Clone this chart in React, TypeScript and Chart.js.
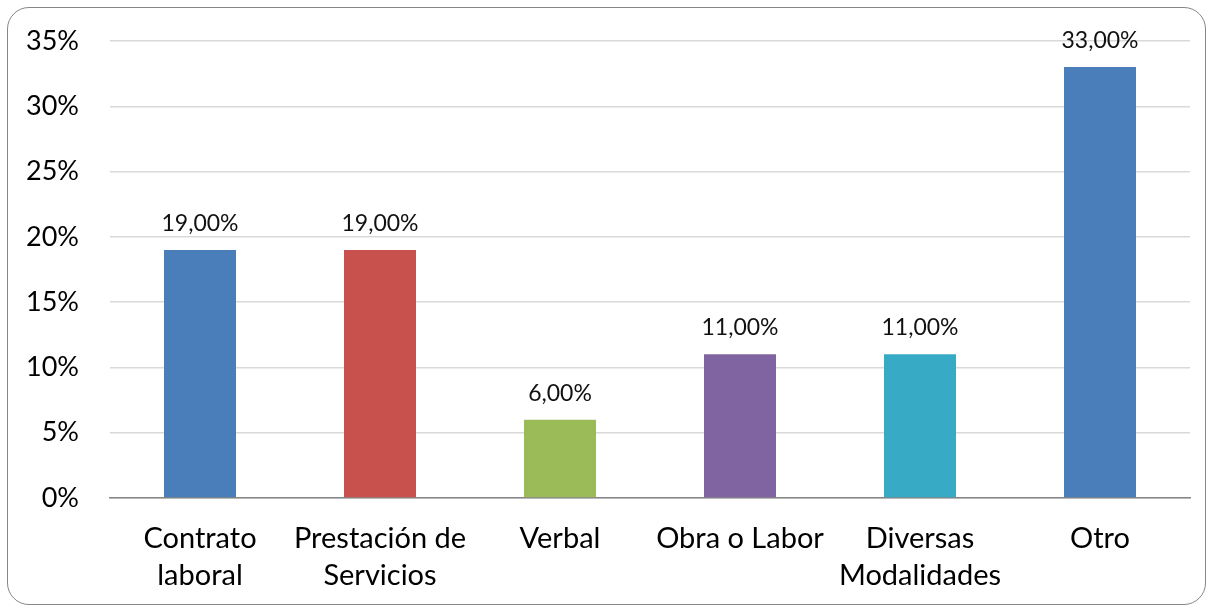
import React, { useEffect, useRef } from "react";
import { Chart, registerables } from "chart.js";

Chart.register(...registerables);

const categories: (string | string[])[] = [
  ["Contrato", "laboral"],
  ["Prestación de", "Servicios"],
  "Verbal",
  "Obra o Labor",
  ["Diversas", "Modalidades"],
  "Otro",
];
const values = [19, 19, 6, 11, 11, 33];
const barColors = ["#4A7EBB", "#C8514E", "#9BBB59", "#8064A2", "#37ABC5", "#4A7EBB"];
const yTicks = [0, 5, 10, 15, 20, 25, 30, 35];

const FONT = "Lato, 'Noto Sans', sans-serif";

const dataLabelPlugin = {
  id: "dataLabels",
  afterDatasetsDraw(chart: any) {
    const ctx = chart.ctx;
    const meta = chart.getDatasetMeta(0);
    ctx.save();
    ctx.font = `23px ${FONT}`;
    ctx.fillStyle = "#111";
    ctx.textAlign = "center";
    ctx.textBaseline = "alphabetic";
    meta.data.forEach((bar: any, i: number) => {
      const v = values[i];
      const txt = v.toFixed(2).replace(".", ",") + "%";
      ctx.fillText(txt, bar.x, bar.y - 19);
    });
    ctx.restore();
  },
};

export default function App() {
  const ref = useRef<HTMLCanvasElement | null>(null);
  useEffect(() => {
    document.body.style.margin = "0";
    if (!ref.current) return;
    const chart = new Chart(ref.current, {
      type: "bar",
      data: {
        labels: categories,
        datasets: [
          {
            data: values,
            backgroundColor: barColors,
            categoryPercentage: 0.8,
            barPercentage: 0.5,
          },
        ],
      },
      options: {
        animation: false,
        responsive: false,
        maintainAspectRatio: false,
        layout: { padding: { top: 41, right: 19, bottom: 0, left: 0 } },
        plugins: { legend: { display: false }, tooltip: { enabled: false } },
        scales: {
          x: {
            grid: { display: false, drawTicks: false },
            border: { display: true, color: "#868686", width: 1.5 },
            ticks: {
              font: { family: FONT, size: 29, lineHeight: 1.27 },
              color: "#000",
              padding: 22,
              maxRotation: 0,
              autoSkip: false,
            },
            afterFit(scale: any) {
              scale.height = 112;
            },
          },
          y: {
            min: 0,
            max: 35,
            afterBuildTicks(scale: any) {
              scale.ticks = yTicks.map((v) => ({ value: v }));
            },
            grid: {
              color: "#d9d9d9",
              lineWidth: 1.5,
              drawTicks: true,
              tickLength: 26,
              tickColor: "rgba(0,0,0,0)",
            },
            border: { display: false },
            ticks: {
              font: { family: FONT, size: 27 },
              color: "#000",
              padding: 5,
              callback: (v: any) => v + "%",
            },
            afterFit(scale: any) {
              scale.width = 110;
            },
          },
        },
      },
      plugins: [dataLabelPlugin],
    });
    return () => chart.destroy();
  }, []);
  return (
    <div style={{ position: "relative", width: 1209, height: 610, background: "#fff" }}>
      <canvas ref={ref} width={1209} height={610} style={{ position: "absolute", left: 0, top: 0 }} />
      <div
        style={{
          position: "absolute",
          left: 7,
          top: 7,
          width: 1197,
          height: 596,
          border: "1.5px solid #868686",
          borderRadius: 22,
          pointerEvents: "none",
        }}
      />
    </div>
  );
}
